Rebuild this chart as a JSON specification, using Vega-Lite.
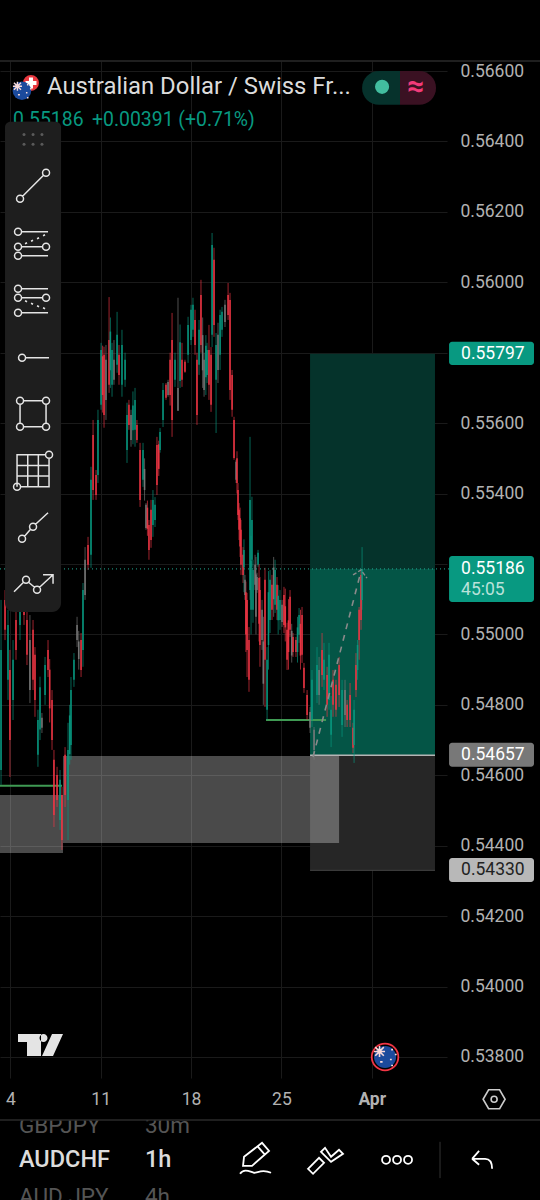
{"$schema":"https://vega.github.io/schema/vega-lite/v6.json","width":447,"height":1017,"autosize":{"type":"none"},"padding":{"left":0,"top":61,"right":93,"bottom":122},"background":"#000000","config":{"view":{"stroke":null},"font":"Roboto","text":{"font":"Roboto"}},
"datasets":{"candles":[
{"d":3.28,"o":0.54615,"h":0.55098,"l":0.54573,"c":0.54956,"s":"u"},{"d":3.59,"o":0.55098,"h":0.55126,"l":0.54984,"c":0.55013,"s":"d"},{"d":3.82,"o":0.54871,"h":0.5507,"l":0.54814,"c":0.55027,"s":"u"},{"d":3.97,"o":0.54899,"h":0.54956,"l":0.54595,"c":0.547,"s":"d"},{"d":4.21,"o":0.54814,"h":0.54984,"l":0.54757,"c":0.54928,"s":"u"},{"d":4.44,"o":0.55041,"h":0.5507,"l":0.54928,"c":0.54956,"s":"d"},{"d":4.75,"o":0.55027,"h":0.55126,"l":0.54984,"c":0.55098,"s":"u"},{"d":5.06,"o":0.55098,"h":0.55126,"l":0.55027,"c":0.55055,"s":"d"},{"d":5.29,"o":0.55041,"h":0.55064,"l":0.54913,"c":0.54942,"s":"d"},{"d":5.52,"o":0.54984,"h":0.55055,"l":0.54805,"c":0.54842,"s":"m"},{"d":5.76,"o":0.55013,"h":0.55041,"l":0.54842,"c":0.54871,"s":"d"},{"d":5.91,"o":0.54942,"h":0.54964,"l":0.54766,"c":0.54814,"s":"d"},{"d":6.14,"o":0.54658,"h":0.54786,"l":0.54624,"c":0.54757,"s":"u"},{"d":6.3,"o":0.5473,"h":0.5488,"l":0.547,"c":0.5485,"s":"u"},{"d":6.45,"o":0.54763,"h":0.54777,"l":0.5472,"c":0.54735,"s":"m"},{"d":6.69,"o":0.54828,"h":0.54936,"l":0.548,"c":0.54913,"s":"u"},{"d":6.92,"o":0.54956,"h":0.54984,"l":0.54879,"c":0.54899,"s":"d"},{"d":7.05,"o":0.549,"h":0.5493,"l":0.5475,"c":0.5479,"s":"d"},{"d":7.23,"o":0.54814,"h":0.54842,"l":0.54672,"c":0.547,"s":"d"},{"d":7.38,"o":0.54644,"h":0.54672,"l":0.54453,"c":0.54487,"s":"d"},{"d":7.62,"o":0.54601,"h":0.54624,"l":0.5451,"c":0.5453,"s":"d"},{"d":7.85,"o":0.54473,"h":0.54615,"l":0.54445,"c":0.54587,"s":"u"},{"d":8.0,"o":0.54544,"h":0.54567,"l":0.54388,"c":0.54416,"s":"d"},{"d":8.24,"o":0.54658,"h":0.5468,"l":0.5451,"c":0.54544,"s":"d"},{"d":8.47,"o":0.5453,"h":0.54749,"l":0.54416,"c":0.54672,"s":"u"},{"d":8.6,"o":0.5466,"h":0.548,"l":0.5463,"c":0.5477,"s":"u"},{"d":8.7,"o":0.54686,"h":0.54879,"l":0.54644,"c":0.54842,"s":"u"},{"d":8.93,"o":0.54871,"h":0.54947,"l":0.54851,"c":0.54928,"s":"u"},{"d":9.17,"o":0.54984,"h":0.5505,"l":0.54964,"c":0.55027,"s":"m"},{"d":9.3,"o":0.5498,"h":0.5501,"l":0.549,"c":0.5493,"s":"m"},{"d":9.48,"o":0.54984,"h":0.55004,"l":0.54879,"c":0.54899,"s":"d"},{"d":9.63,"o":0.54956,"h":0.55146,"l":0.54908,"c":0.55126,"s":"u"},{"d":9.79,"o":0.55112,"h":0.55248,"l":0.55098,"c":0.55212,"s":"m"},{"d":10.02,"o":0.55254,"h":0.55277,"l":0.55183,"c":0.55198,"s":"d"},{"d":10.25,"o":0.55226,"h":0.55476,"l":0.55189,"c":0.55439,"s":"u"},{"d":10.41,"o":0.55566,"h":0.55609,"l":0.55382,"c":0.5541,"s":"d"},{"d":10.64,"o":0.55453,"h":0.55467,"l":0.55382,"c":0.55396,"s":"d"},{"d":10.79,"o":0.55453,"h":0.55638,"l":0.5543,"c":0.55609,"s":"u"},{"d":11.03,"o":0.55652,"h":0.55828,"l":0.55638,"c":0.55808,"s":"u"},{"d":11.15,"o":0.5579,"h":0.5582,"l":0.5563,"c":0.5568,"s":"d"},{"d":11.26,"o":0.55794,"h":0.55817,"l":0.55587,"c":0.55623,"s":"d"},{"d":11.41,"o":0.5578,"h":0.55822,"l":0.55609,"c":0.55666,"s":"m"},{"d":11.65,"o":0.55836,"h":0.55958,"l":0.55686,"c":0.55709,"s":"d"},{"d":11.75,"o":0.5575,"h":0.559,"l":0.557,"c":0.5586,"s":"u"},{"d":11.88,"o":0.55709,"h":0.55828,"l":0.55675,"c":0.55808,"s":"u"},{"d":12.03,"o":0.5578,"h":0.55836,"l":0.55709,"c":0.55723,"s":"m"},{"d":12.27,"o":0.55766,"h":0.55916,"l":0.55743,"c":0.55851,"s":"u"},{"d":12.42,"o":0.55794,"h":0.55822,"l":0.55709,"c":0.55737,"s":"d"},{"d":12.65,"o":0.55709,"h":0.55865,"l":0.55675,"c":0.55822,"s":"u"},{"d":12.89,"o":0.55723,"h":0.558,"l":0.55703,"c":0.5578,"s":"u"},{"d":13.04,"o":0.55524,"h":0.55658,"l":0.55487,"c":0.55623,"s":"u"},{"d":13.19,"o":0.55652,"h":0.55666,"l":0.55581,"c":0.55595,"s":"d"},{"d":13.35,"o":0.55623,"h":0.55638,"l":0.55533,"c":0.55552,"s":"m"},{"d":13.5,"o":0.5558,"h":0.5569,"l":0.5554,"c":0.5565,"s":"u"},{"d":13.66,"o":0.55581,"h":0.557,"l":0.55533,"c":0.55666,"s":"u"},{"d":13.81,"o":0.55595,"h":0.55609,"l":0.55544,"c":0.55552,"s":"d"},{"d":14.05,"o":0.55524,"h":0.55544,"l":0.55362,"c":0.55382,"s":"d"},{"d":14.28,"o":0.55439,"h":0.55544,"l":0.55419,"c":0.55524,"s":"u"},{"d":14.4,"o":0.5541,"h":0.555,"l":0.5538,"c":0.5547,"s":"m"},{"d":14.51,"o":0.55368,"h":0.55373,"l":0.55297,"c":0.55302,"s":"m"},{"d":14.62,"o":0.5536,"h":0.5538,"l":0.5528,"c":0.553,"s":"d"},{"d":14.74,"o":0.55311,"h":0.55325,"l":0.55212,"c":0.5524,"s":"d"},{"d":14.9,"o":0.55354,"h":0.55382,"l":0.55246,"c":0.55268,"s":"d"},{"d":15.05,"o":0.55311,"h":0.5541,"l":0.55277,"c":0.55382,"s":"u"},{"d":15.21,"o":0.55325,"h":0.5539,"l":0.55305,"c":0.55368,"s":"u"},{"d":15.36,"o":0.55538,"h":0.55561,"l":0.55396,"c":0.55424,"s":"d"},{"d":15.5,"o":0.5554,"h":0.5555,"l":0.5545,"c":0.5547,"s":"d"},{"d":15.6,"o":0.55524,"h":0.55586,"l":0.55516,"c":0.55575,"s":"u"},{"d":15.83,"o":0.55609,"h":0.55714,"l":0.55589,"c":0.55694,"s":"u"},{"d":16.06,"o":0.55709,"h":0.55714,"l":0.55666,"c":0.55672,"s":"d"},{"d":16.22,"o":0.55717,"h":0.55723,"l":0.55675,"c":0.5568,"s":"m"},{"d":16.38,"o":0.5578,"h":0.558,"l":0.5565,"c":0.5568,"s":"d"},{"d":16.53,"o":0.55836,"h":0.55913,"l":0.55561,"c":0.55609,"s":"d"},{"d":16.76,"o":0.55723,"h":0.558,"l":0.55703,"c":0.5578,"s":"u"},{"d":16.99,"o":0.557,"h":0.55956,"l":0.55635,"c":0.55635,"s":"m"},{"d":17.15,"o":0.5572,"h":0.5588,"l":0.557,"c":0.5583,"s":"u"},{"d":17.3,"o":0.5578,"h":0.55828,"l":0.55703,"c":0.55723,"s":"d"},{"d":17.53,"o":0.55774,"h":0.5578,"l":0.55743,"c":0.55746,"s":"d"},{"d":17.77,"o":0.55794,"h":0.55902,"l":0.55771,"c":0.55879,"s":"u"},{"d":18.0,"o":0.55836,"h":0.55936,"l":0.55822,"c":0.55922,"s":"u"},{"d":18.15,"o":0.55865,"h":0.55956,"l":0.55845,"c":0.55936,"s":"u"},{"d":18.31,"o":0.55893,"h":0.55922,"l":0.55794,"c":0.55822,"s":"d"},{"d":18.46,"o":0.5578,"h":0.558,"l":0.55595,"c":0.55623,"s":"d"},{"d":18.62,"o":0.55766,"h":0.55893,"l":0.55737,"c":0.55865,"s":"u"},{"d":18.77,"o":0.55964,"h":0.56007,"l":0.558,"c":0.55822,"s":"d"},{"d":18.9,"o":0.5585,"h":0.559,"l":0.557,"c":0.5575,"s":"m"},{"d":19.01,"o":0.5578,"h":0.558,"l":0.55675,"c":0.55694,"s":"m"},{"d":19.15,"o":0.5573,"h":0.5585,"l":0.5568,"c":0.5582,"s":"u"},{"d":19.24,"o":0.55737,"h":0.55828,"l":0.55714,"c":0.55808,"s":"u"},{"d":19.39,"o":0.55808,"h":0.55879,"l":0.55666,"c":0.55709,"s":"d"},{"d":19.55,"o":0.55794,"h":0.55816,"l":0.55632,"c":0.55652,"s":"d"},{"d":19.63,"o":0.55851,"h":0.5614,"l":0.55816,"c":0.56106,"s":"u"},{"d":19.78,"o":0.56064,"h":0.56098,"l":0.55845,"c":0.55879,"s":"d"},{"d":19.94,"o":0.55723,"h":0.55856,"l":0.55572,"c":0.55822,"s":"u"},{"d":20.09,"o":0.55851,"h":0.55885,"l":0.55714,"c":0.55751,"s":"m"},{"d":20.25,"o":0.55794,"h":0.55922,"l":0.55751,"c":0.55907,"s":"u"},{"d":20.4,"o":0.55865,"h":0.5593,"l":0.55845,"c":0.55916,"s":"u"},{"d":20.63,"o":0.55936,"h":0.5595,"l":0.55873,"c":0.55887,"s":"m"},{"d":20.87,"o":0.55964,"h":0.55998,"l":0.55893,"c":0.55907,"s":"d"},{"d":21.02,"o":0.5595,"h":0.5597,"l":0.55666,"c":0.55694,"s":"d"},{"d":21.18,"o":0.55737,"h":0.55751,"l":0.55618,"c":0.55638,"s":"d"},{"d":21.33,"o":0.55609,"h":0.55618,"l":0.55496,"c":0.55501,"s":"d"},{"d":21.49,"o":0.5549,"h":0.55496,"l":0.5543,"c":0.55439,"s":"m"},{"d":21.56,"o":0.555,"h":0.5552,"l":0.554,"c":0.5543,"s":"d"},{"d":21.64,"o":0.5541,"h":0.5543,"l":0.55325,"c":0.55339,"s":"d"},{"d":21.72,"o":0.55354,"h":0.55373,"l":0.55268,"c":0.55297,"s":"d"},{"d":21.8,"o":0.5533,"h":0.5536,"l":0.5522,"c":0.5525,"s":"d"},{"d":21.87,"o":0.55297,"h":0.55325,"l":0.55169,"c":0.55198,"s":"d"},{"d":22.03,"o":0.55226,"h":0.55248,"l":0.55146,"c":0.55169,"s":"d"},{"d":22.1,"o":0.5519,"h":0.5527,"l":0.5512,"c":0.5524,"s":"u"},{"d":22.18,"o":0.55155,"h":0.55169,"l":0.55098,"c":0.55112,"s":"m"},{"d":22.25,"o":0.5512,"h":0.5515,"l":0.5495,"c":0.55,"s":"d"},{"d":22.34,"o":0.55098,"h":0.55118,"l":0.54879,"c":0.54956,"s":"d"},{"d":22.49,"o":0.54984,"h":0.55021,"l":0.54837,"c":0.54871,"s":"d"},{"d":22.57,"o":0.55126,"h":0.55561,"l":0.55098,"c":0.55382,"s":"u"},{"d":22.65,"o":0.5507,"h":0.5528,"l":0.55,"c":0.5521,"s":"u"},{"d":22.72,"o":0.55212,"h":0.55391,"l":0.55192,"c":0.55325,"s":"u"},{"d":22.8,"o":0.5507,"h":0.55212,"l":0.55033,"c":0.55183,"s":"u"},{"d":22.96,"o":0.55198,"h":0.55226,"l":0.55126,"c":0.55141,"s":"m"},{"d":23.03,"o":0.5505,"h":0.5522,"l":0.55,"c":0.5517,"s":"m"},{"d":23.11,"o":0.55163,"h":0.55175,"l":0.55118,"c":0.55126,"s":"m"},{"d":23.19,"o":0.55198,"h":0.5524,"l":0.55192,"c":0.55232,"s":"u"},{"d":23.27,"o":0.5516,"h":0.552,"l":0.5498,"c":0.5503,"s":"d"},{"d":23.34,"o":0.55126,"h":0.55163,"l":0.54908,"c":0.5497,"s":"d"},{"d":23.5,"o":0.5507,"h":0.55098,"l":0.54956,"c":0.54984,"s":"m"},{"d":23.6,"o":0.5498,"h":0.5505,"l":0.548,"c":0.5486,"s":"m"},{"d":23.73,"o":0.55155,"h":0.55189,"l":0.54794,"c":0.54928,"s":"d"},{"d":23.89,"o":0.54786,"h":0.54964,"l":0.54757,"c":0.54928,"s":"u"},{"d":24.0,"o":0.5497,"h":0.5518,"l":0.549,"c":0.5512,"s":"u"},{"d":24.12,"o":0.55041,"h":0.55183,"l":0.55004,"c":0.55155,"s":"u"},{"d":24.27,"o":0.55141,"h":0.55169,"l":0.55041,"c":0.5507,"s":"d"},{"d":24.4,"o":0.5519,"h":0.5522,"l":0.5505,"c":0.551,"s":"m"},{"d":24.51,"o":0.55084,"h":0.55212,"l":0.55061,"c":0.55183,"s":"u"},{"d":24.66,"o":0.55141,"h":0.55163,"l":0.55041,"c":0.5507,"s":"d"},{"d":24.75,"o":0.5504,"h":0.5514,"l":0.55,"c":0.5511,"s":"u"},{"d":24.89,"o":0.55041,"h":0.55126,"l":0.55013,"c":0.55098,"s":"u"},{"d":25.05,"o":0.55084,"h":0.55098,"l":0.55021,"c":0.55035,"s":"m"},{"d":25.2,"o":0.55112,"h":0.55135,"l":0.55004,"c":0.55027,"s":"d"},{"d":25.3,"o":0.5508,"h":0.5513,"l":0.5498,"c":0.5502,"s":"d"},{"d":25.44,"o":0.55013,"h":0.55033,"l":0.54899,"c":0.54928,"s":"d"},{"d":25.55,"o":0.5504,"h":0.551,"l":0.549,"c":0.5495,"s":"d"},{"d":25.67,"o":0.55107,"h":0.55126,"l":0.54993,"c":0.55013,"s":"d"},{"d":25.8,"o":0.5501,"h":0.5503,"l":0.5492,"c":0.5494,"s":"m"},{"d":25.9,"o":0.54993,"h":0.55004,"l":0.54936,"c":0.5495,"s":"d"},{"d":26.13,"o":0.54984,"h":0.54993,"l":0.54936,"c":0.5495,"s":"d"},{"d":26.25,"o":0.5495,"h":0.5505,"l":0.5492,"c":0.5502,"s":"u"},{"d":26.37,"o":0.54999,"h":0.55075,"l":0.54976,"c":0.55055,"s":"u"},{"d":26.48,"o":0.5503,"h":0.5507,"l":0.549,"c":0.5494,"s":"d"},{"d":26.6,"o":0.55055,"h":0.55078,"l":0.54919,"c":0.54942,"s":"d"},{"d":26.75,"o":0.54905,"h":0.54919,"l":0.54834,"c":0.54848,"s":"d"},{"d":26.99,"o":0.54828,"h":0.54842,"l":0.54757,"c":0.54771,"s":"d"},{"d":27.22,"o":0.5478,"h":0.54794,"l":0.5472,"c":0.54735,"s":"m"},{"d":27.37,"o":0.54757,"h":0.54899,"l":0.54737,"c":0.54871,"s":"u"},{"d":27.53,"o":0.54729,"h":0.54737,"l":0.54644,"c":0.54672,"s":"m"},{"d":27.76,"o":0.54828,"h":0.54964,"l":0.54805,"c":0.54913,"s":"u"},{"d":27.92,"o":0.54899,"h":0.54936,"l":0.548,"c":0.54828,"s":"m"},{"d":28.15,"o":0.54956,"h":0.55004,"l":0.54851,"c":0.54885,"s":"d"},{"d":28.3,"o":0.54871,"h":0.54976,"l":0.54842,"c":0.54928,"s":"u"},{"d":28.54,"o":0.54885,"h":0.54908,"l":0.54766,"c":0.548,"s":"d"},{"d":28.69,"o":0.54814,"h":0.54976,"l":0.54786,"c":0.54942,"s":"u"},{"d":28.85,"o":0.54715,"h":0.54825,"l":0.5468,"c":0.54786,"s":"u"},{"d":29.0,"o":0.54871,"h":0.54899,"l":0.54766,"c":0.548,"s":"d"},{"d":29.23,"o":0.54857,"h":0.54871,"l":0.54766,"c":0.54786,"s":"d"},{"d":29.47,"o":0.54913,"h":0.54936,"l":0.54794,"c":0.54828,"s":"d"},{"d":29.7,"o":0.54743,"h":0.54871,"l":0.54709,"c":0.54842,"s":"u"},{"d":29.93,"o":0.54842,"h":0.54871,"l":0.54737,"c":0.54771,"s":"m"},{"d":30.09,"o":0.548,"h":0.54814,"l":0.54737,"c":0.54757,"s":"d"},{"d":30.32,"o":0.54828,"h":0.54862,"l":0.54737,"c":0.54757,"s":"d"},{"d":30.55,"o":0.54735,"h":0.54749,"l":0.54663,"c":0.54678,"s":"d"},{"d":30.63,"o":0.54686,"h":0.54814,"l":0.54635,"c":0.54786,"s":"u"},{"d":30.78,"o":0.54913,"h":0.54947,"l":0.54822,"c":0.54842,"s":"d"},{"d":30.9,"o":0.54899,"h":0.54984,"l":0.54871,"c":0.5497,"s":"u"},{"d":31.02,"o":0.5507,"h":0.55078,"l":0.54928,"c":0.54984,"s":"d"},{"d":31.17,"o":0.55169,"h":0.55183,"l":0.55013,"c":0.55041,"s":"d"},{"d":31.25,"o":0.55098,"h":0.55248,"l":0.5507,"c":0.55186,"s":"u"}
]},
"encoding":{
"x":{"field":"d","type":"quantitative","title":null,"scale":{"domain":[3.2,37.83],"nice":false,"zero":false},"axis":{"values":[4,11,18,25,32],"title":null,"labelExpr":"datum.value==32?'Apr':datum.value","labelFontWeight":{"expr":"datum.value==32?'bold':'normal'"},"labelFont":"Roboto","labelFontSize":17.5,"labelColor":"#b2b2b2","labelPadding":12,"tickSize":0,"domain":false,"grid":true,"gridColor":"#1a1a1a","gridWidth":1}},
"y":{"field":"p","type":"quantitative","title":null,"scale":{"domain":[0.537403,0.566284],"nice":false,"zero":false},"axis":{"orient":"right","values":[0.538,0.54,0.542,0.544,0.546,0.548,0.55,0.552,0.554,0.556,0.558,0.56,0.562,0.564,0.566],"labelExpr":"datum.value==0.552||datum.value==0.558?'':format(datum.value,'.5f')","title":null,"labelFont":"Roboto","labelFontSize":17.5,"labelColor":"#b2b2b2","labelPadding":13,"tickSize":0,"domain":false,"grid":true,"gridColor":"#1a1a1a","gridWidth":1}}},
"layer":[
{"data":{"values":[{"d":27.22,"d2":36.9,"p":0.55797,"p2":0.55186}]},"mark":{"type":"rect","fill":"#05332b"},"encoding":{"x2":{"field":"d2"},"y2":{"field":"p2"}}},
{"data":{"values":[{"d":27.22,"d2":36.9,"p":0.55186,"p2":0.54657}]},"mark":{"type":"rect","fill":"#045546"},"encoding":{"x2":{"field":"d2"},"y2":{"field":"p2"}}},
{"data":{"values":[{"d":27.22,"d2":36.9,"p":0.54657,"p2":0.5433}]},"mark":{"type":"rect","fill":"#262626"},"encoding":{"x2":{"field":"d2"},"y2":{"field":"p2"}}},
{"data":{"values":[{"d":8.08,"d2":29.47,"p":0.54655,"p2":0.54408},{"d":3.2,"d2":8.08,"p":0.54544,"p2":0.54379}]},"mark":{"type":"rect","fill":"#ffffff","opacity":0.29},"encoding":{"x2":{"field":"d2"},"y2":{"field":"p2"}}},
{"data":{"values":[{"d":27.22,"d2":36.9,"p":0.54657}]},"mark":{"type":"rule","stroke":"#b5b5b5","strokeWidth":1.5},"encoding":{"x2":{"field":"d2"}}},
{"data":{"values":[{"d":27.22,"d2":36.9,"p":0.5433}]},"mark":{"type":"rule","stroke":"#444444","strokeWidth":1},"encoding":{"x2":{"field":"d2"}}},
{"data":{"values":[{"d":3.2,"d2":8.0,"p":0.5457},{"d":23.81,"d2":28.46,"p":0.54757}]},"mark":{"type":"rule","stroke":"#3f9a53","strokeWidth":2},"encoding":{"x2":{"field":"d2"}}},
{"data":{"name":"candles"},"mark":{"type":"rule","strokeWidth":1,"opacity":0.65},"encoding":{"y":{"field":"h","type":"quantitative","title":null},"y2":{"field":"l"},"color":{"field":"s","type":"nominal","legend":null,"scale":{"domain":["u","d","m"],"range":["#089981","#f23645","#7a7a7a"]}}}},
{"data":{"name":"candles"},"mark":{"type":"rule","strokeWidth":1.6,"opacity":0.9},"encoding":{"y":{"field":"o","type":"quantitative","title":null},"y2":{"field":"c"},"color":{"field":"s","type":"nominal","legend":null,"scale":{"domain":["u","d","m"],"range":["#089981","#f23645","#7a7a7a"]}}}},
{"data":{"values":[{"d":3.2,"d2":37.99,"p":0.55186}]},"mark":{"type":"rule","stroke":"#22ab94","strokeWidth":1,"strokeDash":[1,3]},"encoding":{"x2":{"field":"d2"}}},
{"data":{"values":[{"d":27.45,"p":0.54652},{"d":31.17,"p":0.5518}]},"mark":{"type":"line","stroke":"#8a8a8a","strokeWidth":1.6,"strokeDash":[6,6]}},
{"data":{"values":[{"d":30.55,"p":0.55169},{"d":31.17,"p":0.55183},{"d":31.63,"p":0.5516}]},"mark":{"type":"line","stroke":"#8a8a8a","strokeWidth":1.4,"strokeDash":[4,2]}},
{"data":{"values":[{"d":3.59,"d2":7.93,"p":0.56456,"p2":0.55064}]},"mark":{"type":"rect","fill":"#1e1e1e","cornerRadius":9},"encoding":{"x2":{"field":"d2"},"y2":{"field":"p2"}}},
{"data":{"values":[{"d":5.76,"p":0.5576,"item":"toolbar"}]},"mark":{"type":"point","size":4,"opacity":1,"filled":false,"stroke":"#e4e4e4","strokeWidth":1.5,"shape":"M-16.5 -168 a3.5 3.5 0 1 0 7 0 a3.5 3.5 0 1 0 -7 0 M9.5 -194 a3.5 3.5 0 1 0 7 0 a3.5 3.5 0 1 0 -7 0 M-10.5 -170.5 L10.5 -191.5 M-18.5 -135 a3.5 3.5 0 1 0 7 0 a3.5 3.5 0 1 0 -7 0 M-18.5 -120 a3.5 3.5 0 1 0 7 0 a3.5 3.5 0 1 0 -7 0 M9.5 -120 a3.5 3.5 0 1 0 7 0 a3.5 3.5 0 1 0 -7 0 M-18.5 -111 a3.5 3.5 0 1 0 7 0 a3.5 3.5 0 1 0 -7 0 M-11.5 -135 L15 -135 M-11.5 -120 L9.5 -120 M-11.5 -111 L15 -111 M-8 -123 L-6 -124 M-2 -125.5 L0 -126.5 M4 -128 L6 -129 M10 -131 L12 -132 M-18.5 -78 a3.5 3.5 0 1 0 7 0 a3.5 3.5 0 1 0 -7 0 M-18.5 -69 a3.5 3.5 0 1 0 7 0 a3.5 3.5 0 1 0 -7 0 M9.5 -69 a3.5 3.5 0 1 0 7 0 a3.5 3.5 0 1 0 -7 0 M-18.5 -54 a3.5 3.5 0 1 0 7 0 a3.5 3.5 0 1 0 -7 0 M-11.5 -78 L15 -78 M-11.5 -69 L9.5 -69 M-11.5 -54 L15 -54 M-8 -66 L-6 -65 M-2 -63.5 L0 -62.5 M4 -61 L6 -60 M10 -59 L12 -58 M-14.5 -9 a3.5 3.5 0 1 0 7 0 a3.5 3.5 0 1 0 -7 0 M-7.5 -9 L16 -9 M-16.5 34 a3.5 3.5 0 1 0 7 0 a3.5 3.5 0 1 0 -7 0 M9.5 34 a3.5 3.5 0 1 0 7 0 a3.5 3.5 0 1 0 -7 0 M-16.5 60 a3.5 3.5 0 1 0 7 0 a3.5 3.5 0 1 0 -7 0 M9.5 60 a3.5 3.5 0 1 0 7 0 a3.5 3.5 0 1 0 -7 0 M-9.5 34 L9.5 34 M-9.5 60 L9.5 60 M-13 37.5 L-13 56.5 M13 37.5 L13 56.5 M-16 120 L-16 88 L12.5 88 M16 91.5 L16 120 L-12.5 120 M-5.3 88 L-5.3 120 M5.3 88 L5.3 120 M-16 98.7 L16 98.7 M-16 109.3 L16 109.3 M12.5 88 a3.5 3.5 0 1 0 7 0 a3.5 3.5 0 1 0 -7 0 M-19.5 120 a3.5 3.5 0 1 0 7 0 a3.5 3.5 0 1 0 -7 0 M-14.5 172 a3.5 3.5 0 1 0 7 0 a3.5 3.5 0 1 0 -7 0 M-3.5 160 a3.5 3.5 0 1 0 7 0 a3.5 3.5 0 1 0 -7 0 M-8.5 169.5 L-2.5 162.5 M2.5 157.5 L15 146 M-19 225 L-9.5 215.5 M-10.5 213 a3.5 3.5 0 1 0 7 0 a3.5 3.5 0 1 0 -7 0 M0.5 223 a3.5 3.5 0 1 0 7 0 a3.5 3.5 0 1 0 -7 0 M-4.5 215.5 L1.5 220.5 M6.5 220.5 L20 208 M10 208 L20 208 L20 217"}},
{"data":{"values":[{"d":5.06,"p":0.5642},{"d":5.76,"p":0.5642},{"d":6.45,"p":0.5642},{"d":5.06,"p":0.56392},{"d":5.76,"p":0.56392},{"d":6.45,"p":0.56392}]},"mark":{"type":"point","shape":"circle","size":9,"filled":true,"opacity":1,"color":"#5a5a5a"}},
{"data":{"values":[{"d":31.25,"d2":34.19,"p":0.566,"p2":0.56504}]},"mark":{"type":"rect","fill":"#06322c","cornerRadiusTopLeft":17,"cornerRadiusBottomLeft":17},"encoding":{"x2":{"field":"d2"},"y2":{"field":"p2"}}},
{"data":{"values":[{"d":34.19,"d2":36.98,"p":0.566,"p2":0.56504}]},"mark":{"type":"rect","fill":"#3a1122","cornerRadiusTopRight":17,"cornerRadiusBottomRight":17},"encoding":{"x2":{"field":"d2"},"y2":{"field":"p2"}}},
{"data":{"values":[{"d":32.8,"p":0.56555}]},"mark":{"type":"point","shape":"circle","size":200,"filled":true,"opacity":1,"color":"#42bd9f"}},
{"data":{"values":[{"d":35.43,"p":0.56555,"t":"≈"}]},"mark":{"type":"text","fontSize":30,"fontWeight":"bold","color":"#f23b7a","align":"center","baseline":"middle"},"encoding":{"text":{"field":"t"}}},
{"data":{"values":[{"d":5.6,"p":0.56566}]},"mark":{"type":"point","shape":"circle","size":254,"filled":true,"opacity":1,"color":"#e8383f"}},
{"data":{"values":[{"d":5.6,"p":0.56566}]},"mark":{"type":"point","size":4,"opacity":1,"filled":true,"color":"#ffffff","strokeWidth":0,"shape":"M-2 -5.5 h4 v3.5 h3.5 v4 h-3.5 v3.5 h-4 v-3.5 h-3.5 v-4 h3.5 z"}},
{"data":{"values":[{"d":4.9,"p":0.56544}]},"mark":{"type":"point","shape":"circle","size":346,"filled":true,"opacity":1,"color":"#1b4a9c"}},
{"data":{"values":[{"d":33.03,"p":0.538}]},"mark":{"type":"point","shape":"circle","size":804,"filled":true,"opacity":1,"color":"#f23645"}},
{"data":{"values":[{"d":33.03,"p":0.538}]},"mark":{"type":"point","shape":"circle","size":615,"filled":true,"opacity":1,"color":"#000000"}},
{"data":{"values":[{"d":33.03,"p":0.538}]},"mark":{"type":"point","shape":"circle","size":490,"filled":true,"opacity":1,"color":"#1b4a9c"}},
{"data":{"values":[{"d":4.9,"p":0.56544}]},"mark":{"type":"point","size":4,"opacity":1,"filled":false,"stroke":"#f7dada","strokeWidth":1.4,"shape":"M-8 -8 L-1 -1 M-1 -8 L-8 -1 M-4.5 -9 L-4.5 0 M-9 -4.5 L0 -4.5 M-4 4 h2 M5 -6 h1.5 M8 -2 h1.5 M4 2 h1.5 M5 7 h1.5"}},
{"data":{"values":[{"d":33.03,"p":0.538}]},"mark":{"type":"point","size":6,"opacity":1,"filled":false,"stroke":"#f7dada","strokeWidth":1.6,"shape":"M-8 -8 L-1 -1 M-1 -8 L-8 -1 M-4.5 -9 L-4.5 0 M-9 -4.5 L0 -4.5 M-4 4 h2 M5 -6 h1.5 M8 -2 h1.5 M4 2 h1.5 M5 7 h1.5"}},
{"data":{"values":[{"d":37.99,"d2":44.57,"p":0.55831,"p2":0.55765}]},"mark":{"type":"rect","fill":"#089981","cornerRadius":3},"encoding":{"x2":{"field":"d2"},"y2":{"field":"p2"}}},
{"data":{"values":[{"d":37.99,"d2":44.57,"p":0.55223,"p2":0.55092}]},"mark":{"type":"rect","fill":"#089981","cornerRadius":3},"encoding":{"x2":{"field":"d2"},"y2":{"field":"p2"}}},
{"data":{"values":[{"d":37.99,"d2":44.57,"p":0.54692,"p2":0.54624}]},"mark":{"type":"rect","fill":"#787878","cornerRadius":3},"encoding":{"x2":{"field":"d2"},"y2":{"field":"p2"}}},
{"data":{"values":[{"d":37.99,"d2":44.57,"p":0.54365,"p2":0.54297}]},"mark":{"type":"rect","fill":"#b8b8b8","cornerRadius":3},"encoding":{"x2":{"field":"d2"},"y2":{"field":"p2"}}},
{"data":{"values":[{"d":38.92,"p":0.55797,"t":"0.55797"},{"d":38.92,"p":0.55186,"t":"0.55186"},{"d":38.92,"p":0.54657,"t":"0.54657"}]},"mark":{"type":"text","fontSize":17.5,"color":"#ffffff","align":"left","baseline":"middle"},"encoding":{"text":{"field":"t"}}},
{"data":{"values":[{"d":38.92,"p":0.55126,"t":"45:05"}]},"mark":{"type":"text","fontSize":17.5,"color":"#b9e2da","align":"left","baseline":"middle"},"encoding":{"text":{"field":"t"}}},
{"data":{"values":[{"d":38.92,"p":0.5433,"t":"0.54330"}]},"mark":{"type":"text","fontSize":17.5,"color":"#222222","align":"left","baseline":"middle"},"encoding":{"text":{"field":"t"}}},
{"data":{"values":[{"d":6.84,"p":0.56555,"t":"Australian Dollar / Swiss Fr..."}]},"mark":{"type":"text","fontSize":23.9,"color":"#dcdcdc","align":"left","baseline":"middle"},"encoding":{"text":{"field":"t"}}},
{"data":{"values":[{"d":4.21,"p":0.56461,"t":"0.55186"},{"d":10.33,"p":0.56461,"t":"+0.00391 (+0.71%)"}]},"mark":{"type":"text","fontSize":19.4,"color":"#089981","align":"left","baseline":"middle"},"encoding":{"text":{"field":"t"}}},
{"data":{"values":[{"d":3.59,"d2":7.93,"p":0.56456,"p2":0.56425}]},"mark":{"type":"rect","fill":"#1e1e1e","cornerRadiusTopLeft":9,"cornerRadiusTopRight":9},"encoding":{"x2":{"field":"d2"},"y2":{"field":"p2"}}},
{"data":{"values":[{"d":6.3,"p":0.53834}]},"mark":{"type":"point","size":4,"opacity":1,"filled":true,"color":"#e4e4e4","strokeWidth":0,"shape":"M-22 -11 L1 -11 L1 11 L-13 11 L-13 -3 L-22 -3 Z M-0.5 -7 a4 4 0 1 0 8 0 a4 4 0 1 0 -8 0 M12 -11 L23 -11 L13 11 L2 11 Z"}},
{"data":{"values":[{"d":4.67,"p":0.53604,"t":"GBPJPY"},{"d":14.43,"p":0.53604,"t":"30m"},{"d":4.67,"p":0.53402,"t":"AUD JPY"},{"d":14.43,"p":0.53402,"t":"4h"}]},"mark":{"type":"text","fontSize":22.5,"color":"#555555","align":"left","baseline":"middle"},"encoding":{"text":{"field":"t"}}},
{"data":{"values":[{"d":3.2,"d2":45.04,"p":0.53644,"p2":0.53621}]},"mark":{"type":"rect","fill":"#000000"},"encoding":{"x2":{"field":"d2"},"y2":{"field":"p2"}}},
{"data":{"values":[{"d":3.2,"d2":45.04,"p":0.566284},{"d":3.2,"d2":45.04,"p":0.53621}]},"mark":{"type":"rule","stroke":"#2a2a2a","strokeWidth":1.5},"encoding":{"x2":{"field":"d2"}}},
{"data":{"values":[{"d":4.67,"p":0.53508,"t":"AUDCHF"},{"d":14.43,"p":0.53508,"t":"1h"}]},"mark":{"type":"text","fontSize":23.5,"fontWeight":500,"color":"#dcdcdc","align":"left","baseline":"middle"},"encoding":{"text":{"field":"t"}}},
{"data":{"values":[{"d":37.29,"p":0.53559,"p2":0.53456}]},"mark":{"type":"rule","stroke":"#333333","strokeWidth":1},"encoding":{"y2":{"field":"p2"}}},
{"data":{"values":[{"d":23.19,"p":0.53508}]},"mark":{"type":"point","size":4,"opacity":1,"filled":false,"stroke":"#ffffff","strokeWidth":1.8,"shape":"M-14 -3 L4 -17 L11 -9 L-6 6 L-15 6 Z M0 -13 L7 -5 M-18 14 C-14 8 -8 12 -4 13 C0 13 4 9 13 13"}},
{"data":{"values":[{"d":28.38,"p":0.53508}]},"mark":{"type":"point","size":4,"opacity":1,"filled":false,"stroke":"#ffffff","strokeWidth":1.8,"shape":"M-17 9 L-6 -2 L-1 3 L-12 14 Z M-4 -8 L6 2 L18 -6 L14 -10 L6 -3 L0 -12 Z"}},
{"data":{"values":[{"d":33.96,"p":0.53508}]},"mark":{"type":"point","size":4,"opacity":1,"filled":false,"stroke":"#ffffff","strokeWidth":1.8,"shape":"M-15 0 a4 4 0 1 0 8 0 a4 4 0 1 0 -8 0 M-4 0 a4 4 0 1 0 8 0 a4 4 0 1 0 -8 0 M7 0 a4 4 0 1 0 8 0 a4 4 0 1 0 -8 0"}},
{"data":{"values":[{"d":40.55,"p":0.53508}]},"mark":{"type":"point","size":4,"opacity":1,"filled":false,"stroke":"#ffffff","strokeWidth":1.8,"shape":"M-10 -1 L-3 -9 M-10 -1 L-3 5 M-10 -1 L3 -1 C8 -1 10 3 10 9"}},
{"data":{"values":[{"d":41.48,"p":0.5368}]},"mark":{"type":"point","size":4,"opacity":1,"filled":false,"stroke":"#cccccc","strokeWidth":1.6,"shape":"M-11 0 L-5.5 -9.5 L5.5 -9.5 L11 0 L5.5 9.5 L-5.5 9.5 Z M-3 0 a3 3 0 1 0 6 0 a3 3 0 1 0 -6 0"}}
]}
